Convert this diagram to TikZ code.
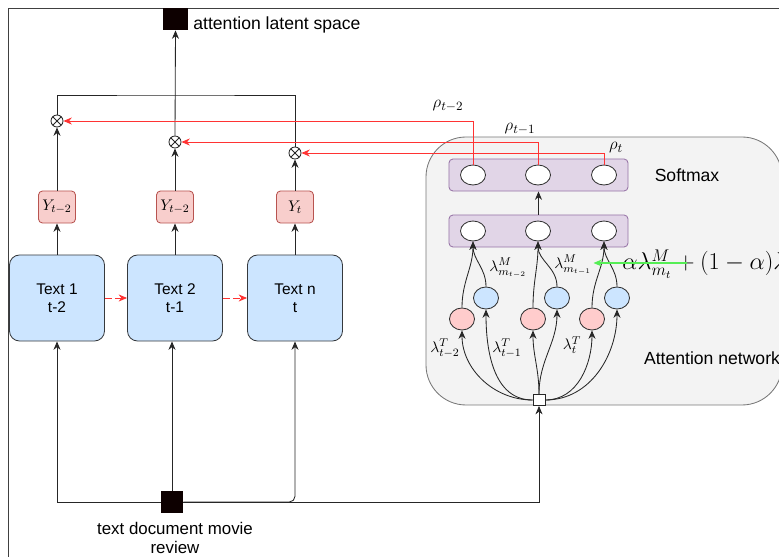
\documentclass[tikz,border=0pt]{standalone}
\usepackage{fontspec}
\setmainfont{Liberation Sans}
\usetikzlibrary{arrows.meta,shapes.geometric}

\definecolor{textblue}{HTML}{CCE5FF}
\definecolor{boxgray}{HTML}{36393D}
\definecolor{ypink}{HTML}{F8CECC}
\definecolor{yred}{HTML}{B85450}
\definecolor{layerfill}{HTML}{E1D5E7}
\definecolor{layerdraw}{HTML}{9673A6}
\definecolor{netfill}{HTML}{F3F3F3}
\definecolor{netdraw}{HTML}{777777}
\definecolor{rhored}{HTML}{FF3333}
\definecolor{mixgreen}{HTML}{55EE55}
\definecolor{unitpink}{HTML}{FFCCCC}

\tikzset{
    >={Stealth[length=6pt,width=5pt]},
    textbox/.style={draw=boxgray, fill=textblue, rounded corners=0.25cm,
        minimum width=2.375cm, minimum height=2.15cm, align=center,
        font=\fontsize{11}{12.5}\selectfont},
    ybox/.style={draw=yred, fill=ypink, rounded corners=0.1cm, inner sep=0pt,
        minimum width=0.925cm, minimum height=0.8cm, font=\fontsize{11}{13}\selectfont},
    prod/.style={circle, draw, inner sep=0pt, minimum size=0.3cm,
        path picture={\draw (path picture bounding box.north west) -- (path picture bounding box.south east)
            (path picture bounding box.north east) -- (path picture bounding box.south west);}},
    blackbox/.style={fill=black!95!red, inner sep=0pt},
    layer/.style={draw=layerdraw, fill=layerfill, rounded corners=0.1cm,
        minimum width=4.475cm, minimum height=0.8cm},
    unit/.style={ellipse, draw=black!80, fill=white, inner sep=0pt,
        minimum width=0.625cm, minimum height=0.5cm},
    pinkunit/.style={unit, fill=unitpink, minimum height=0.55cm},
    blueunit/.style={unit, fill=textblue, minimum height=0.55cm},
    rholine/.style={rhored},
    rholabel/.style={font=\fontsize{13}{15}\selectfont},
    lamlabel/.style={font=\fontsize{11}{13}\selectfont, inner sep=1pt},
    caption/.style={font=\fontsize{12.5}{15}\selectfont}
}

\begin{document}
\begin{tikzpicture}[x=0.025cm, y=-0.025cm, line width=0.6pt, draw=black!85]

    \clip (0,0) rectangle (779,557);
    \draw[black!75] (8,8) rectangle (800,600);

    \draw[netdraw, fill=netfill, rounded corners=1cm] (426,137) rectangle (782,405);

    \foreach \i/\x/\lab in {1/57/{Text 1\\t-2}, 2/175/{Text 2\\t-1}, 3/295/{Text n\\t}} {
        \node[textbox] (t\i) at (\x,298) {\lab};
    }
    \foreach \i/\x/\lab in {1/57/{t-2}, 2/175/{t-2}, 3/295/t} {
        \node[ybox] (y\i) at (\x,207) {$Y_{\lab}$};
    }
    \foreach \i/\x/\y in {1/57/121, 2/175/142, 3/295/153} {
        \node[prod] (x\i) at (\x,\y) {};
    }

    \node[blackbox, minimum width=0.625cm, minimum height=0.55cm] (lat) at (175.5,19) {};
    \node[caption, anchor=base west, inner sep=0pt] (latlabel) at (193,30) {attention latent space};
    \node[blackbox, minimum size=0.55cm] (doc) at (172,502) {};
    \node[caption, align=center, font=\fontsize{12}{13}\selectfont] (doclabel) at (175,538) {text document movie\\review};

    \foreach \i in {1,2,3} {
        \draw[->] (t\i) -- (y\i);
        \draw[->] (y\i) -- (x\i);
    }
    \draw[rholine, dash pattern=on 5pt off 2pt, ->] (t1) -- (t2);
    \draw[rholine, dash pattern=on 5pt off 2pt, ->] (t2) -- (t3);

    \coordinate (join) at (175,95);
    \draw (x1.north) |- (join) -| (x3.north);
    \draw[->] (x2.north) -- (lat.south);

    \draw[->] (doc.west) -| (t1.south);
    \draw[->] (doc.north) -- (doc.north |- t2.south);
    \draw[->, rounded corners=4pt] (doc.east) -| (t3.south);

    \node[layer] (soft) at (538.5,175) {};
    \node[layer] (hid) at (538.5,231) {};
    \draw[->] (hid) -- (soft);
    \foreach \i/\x in {1/473, 2/538, 3/604} {
        \node[unit] (s\i) at (\x,175) {};
        \node[unit] (h\i) at (\x,231) {};
    }
    \node[caption] (softlabel) at (687,175) {Softmax};
    \node[caption, anchor=west] (netlabel) at (639,358) {Attention network};

    \foreach \i/\x in {1/462, 2/533, 3/592} {
        \node[pinkunit] (p\i) at (\x,319) {};
    }
    \foreach \i/\x in {1/486, 2/557, 3/617} {
        \node[blueunit] (b\i) at (\x,298) {};
    }
    \node[draw, fill=white, inner sep=0pt, minimum width=0.3cm, minimum height=0.275cm] (inp) at (539,400) {};
    \draw[->] (doc.east) -| (inp.south);

    \foreach \i/\s/\a in {1/west/180, 2/north/90, 3/east/0} {
        \draw[->] (inp.\s) to[out=\a,in=-90] (p\i.south);
        \draw[->] (inp.\s) to[out=\a,in=-90] (b\i.south);
        \draw[->] (p\i.north) to[out=90,in=-90] (h\i.south);
        \draw[->] (b\i.north) to[out=90,in=-90] (h\i.south);
    }

    \foreach \i in {1,2,3} {
        \draw[rholine, ->] (s\i.north) |- (x\i.east);
    }
    \node[rholabel] (r1) at (448,106) {$\rho_{t-2}$};
    \node[rholabel] (r2) at (520,129) {$\rho_{t-1}$};
    \node[rholabel] (r3) at (616,148) {$\rho_t$};

    \node[lamlabel] (lt1) at (445,348) {$\lambda^T_{t-2}$};
    \node[lamlabel] (lt2) at (507,348) {$\lambda^T_{t-1}$};
    \node[lamlabel] (lt3) at (572,345) {$\lambda^T_t$};
    \node[lamlabel] (lm1) at (508,268) {$\lambda^M_{m_{t-2}}$};
    \node[lamlabel] (lm2) at (573,265) {$\lambda^M_{m_{t-1}}$};

    \node[anchor=west, inner sep=0pt, font=\fontsize{17}{20}\selectfont] (mix) at (622,264) {$\alpha\lambda^M_{m_t} + (1-\alpha)\lambda^M_t$};
    \coordinate (gsrc) at (687,263);
    \draw[mixgreen, thick, ->] (gsrc) -- (gsrc -| lm2.east);

\end{tikzpicture}
\end{document}
